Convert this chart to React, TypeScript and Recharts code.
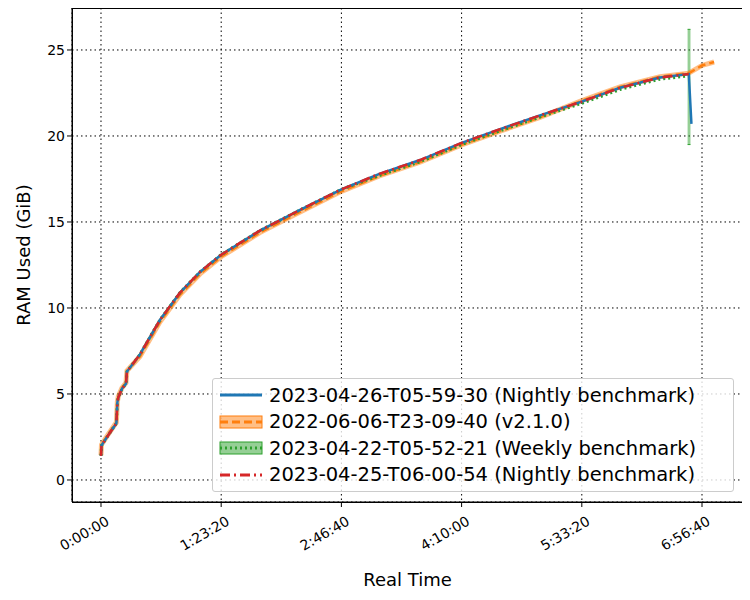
import { ComposedChart, Line, Area, XAxis, YAxis, CartesianGrid } from "recharts";

const xTicks = [0, 5000, 10000, 15000, 20000, 25000];
const xTickLabels = ["0:00:00", "1:23:20", "2:46:40", "4:10:00", "5:33:20", "6:56:40"];
const yTicks = [0, 5, 10, 15, 20, 25];

const baseTimes = [0, 20, 300, 640, 680, 720, 870, 1040, 1080, 1620, 2450, 3290, 4120, 5000, 6610, 8280, 10000, 11580, 13270, 15000, 16600, 18260, 20000, 21590, 23250, 24450];
const baseRam = [1.4, 2.0, 2.6, 3.3, 4.5, 4.8, 5.3, 5.6, 6.3, 7.3, 9.3, 10.9, 12.1, 13.1, 14.5, 15.7, 16.9, 17.8, 18.6, 19.6, 20.4, 21.2, 22.0, 22.8, 23.4, 23.6];

const blueTail = [[24560, 20.7]];
const orangeTail = [[25000, 24.1], [25500, 24.3]];
const greenTail = [[24460, 23.5]];
const greenBand = [[24400, 19.5, 26.2], [24520, 19.5, 26.2]];

const mk = (pts: number[][], off = 0) => pts.map(([t, v]) => ({ t, v: v + off }));
const base = baseTimes.map((t, i) => [t, baseRam[i]]);
const blue = mk([...base, ...blueTail]);
const orange = mk([...base.map(([t, v]) => [t, t > 1500 && t < 20000 ? v - 0.12 : v + 0.05]), ...orangeTail]);
const green = mk([...base.map(([t, v]) => [t, t > 10000 ? v - 0.1 : v]), ...greenTail]);
const red = mk(base);
const band = greenBand.map(([t, lo, hi]) => ({ t, r: [lo, hi] }));

const font = "DejaVu Sans, sans-serif";
const tick = { fontSize: 14, fill: "#000", fontFamily: font };

const legendItems = [
  { c: "#1f77b4", dash: "", label: "2023-04-26-T05-59-30 (Nightly benchmark)", patch: false },
  { c: "#ff7f0e", dash: "8 4", label: "2022-06-06-T23-09-40 (v2.1.0)", patch: true },
  { c: "#2ca02c", dash: "2 3", label: "2023-04-22-T05-52-21 (Weekly benchmark)", patch: true },
  { c: "#d62728", dash: "10 4 2 4", label: "2023-04-25-T06-00-54 (Nightly benchmark)", patch: false },
];

export default function App() {
  return (
    <div style={{ position: "relative", width: 742, height: 584, fontFamily: font }}>
      <ComposedChart width={742} height={584} margin={{ top: 0, right: 7, left: 0, bottom: 0 }}>
        <CartesianGrid stroke="#000" strokeDasharray="1.5 3" />
        <XAxis
          dataKey="t" type="number" domain={[-1206, 26705]} ticks={xTicks} allowDuplicatedCategory={false}
          height={90} stroke="#000" tickSize={5}
          tick={({ x, y, payload }: any) => (
            <text x={x + 4} y={y + 6} transform={`rotate(-30 ${x + 4} ${y + 6})`} textAnchor="end" dominantBaseline="hanging" fontSize={14} fontFamily={font}>
              {xTickLabels[xTicks.indexOf(payload.value)]}
            </text>
          )}
          label={{ value: "Real Time", position: "insideBottom", offset: 6, fontSize: 18, fill: "#000", fontFamily: font }}
        />
        <YAxis
          type="number" domain={[-1.28, 27.44]} ticks={yTicks} width={64} stroke="#000" tickSize={5} tick={tick}
          label={{ value: "RAM Used (GiB)", angle: -90, position: "insideLeft", offset: 0, dx: 16, fontSize: 18, fill: "#000", fontFamily: font, style: { textAnchor: "middle" } }}
        />
        <Area data={band} dataKey="r" stroke="#2ca02c" strokeWidth={1} fill="#2ca02c" fillOpacity={0.5} isAnimationActive={false} />
        <Line data={orange} dataKey="v" stroke="#ff7f0e" strokeWidth={5} strokeOpacity={0.5} dot={false} isAnimationActive={false} />
        <Line data={orange} dataKey="v" stroke="#ff7f0e" strokeWidth={2.5} strokeDasharray="8 4" dot={false} isAnimationActive={false} />
        <Line data={green} dataKey="v" stroke="#2ca02c" strokeWidth={3} strokeDasharray="2 3" dot={false} isAnimationActive={false} />
        <Line data={blue} dataKey="v" stroke="#1f77b4" strokeWidth={2.5} dot={false} isAnimationActive={false} />
        <Line data={red} dataKey="v" stroke="#d62728" strokeWidth={2.5} strokeDasharray="10 4 2 4" dot={false} isAnimationActive={false} />
      </ComposedChart>
      <div style={{ position: "absolute", left: 64, top: 0, width: 670, height: 493, border: "1px solid #000", pointerEvents: "none" }} />
      <div style={{ position: "absolute", left: 204, top: 370, width: 514, padding: "3px 0 3px 6px", background: "rgba(255,255,255,0.8)", border: "1px solid #ccc", borderRadius: 3, fontSize: 19.5 }}>
        {legendItems.map((it) => (
          <div key={it.label} style={{ display: "flex", alignItems: "center", height: 26.5, whiteSpace: "nowrap" }}>
            <svg width={44} height={16} style={{ marginRight: 6 }}>
              {it.patch && <rect x={1} y={2} width={42} height={12} fill={it.c} fillOpacity={0.5} stroke={it.c} />}
              <line x1={1} x2={43} y1={8} y2={8} stroke={it.c} strokeWidth={3} strokeDasharray={it.dash} />
            </svg>
            <span>{it.label}</span>
          </div>
        ))}
      </div>
    </div>
  );
}
